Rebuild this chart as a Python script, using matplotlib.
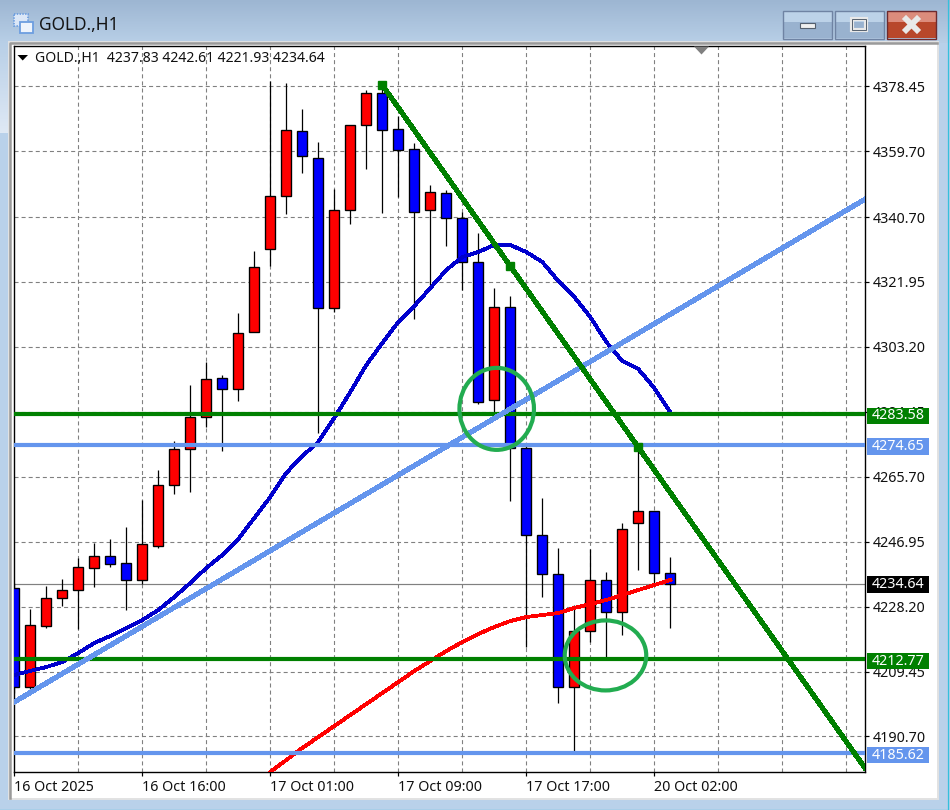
import numpy as np
import matplotlib
matplotlib.use("Agg")
import matplotlib.pyplot as plt
from matplotlib.patches import Rectangle, Ellipse, Polygon
from matplotlib.colors import LinearSegmentedColormap
from matplotlib.transforms import offset_copy

plt.rcParams['font.family'] = ['Noto Sans', 'DejaVu Sans']
plt.rcParams['lines.scale_dashes'] = False

# ---------- data ----------
opens = [4233.57,4204.99,4222.60,4230.69,4233.00,4239.35,4242.81,4240.79,4235.88,4245.70,4263.32,4273.71,
         4282.95,4294.21,4291.04,4307.50,4331.47,4346.77,4365.54,4357.74,4314.43,4342.73,4367.27,4376.51,
         4366.12,4360.34,4342.73,4347.64,4340.42,4327.71,4287.86,4314.72,4274.00,4248.88,4237.62,4204.99,
         4221.16,4235.88,4226.64,4252.34,4255.81,4237.83]
highs = [4235.02,4227.51,4234.15,4236.17,4242.24,4246.57,4247.72,4251.19,4258.98,4267.65,4276.02,4292.19,
         4298.84,4295.08,4312.98,4330.89,4379.98,4379.40,4371.89,4362.36,4348.79,4367.27,4377.38,4378.82,
         4369.87,4362.08,4349.95,4348.50,4342.15,4336.09,4320.20,4317.89,4274.87,4259.56,4245.12,4228.66,
         4244.84,4238.19,4252.34,4274.00,4255.81,4242.61]
lows = [4203.25,4204.12,4222.02,4228.38,4221.73,4233.86,4239.64,4227.22,4234.73,4245.12,4260.72,4261.30,
        4280.07,4273.13,4287.57,4307.50,4326.56,4341.57,4353.41,4278.33,4313.27,4338.69,4354.57,4341.86,
        4346.48,4311.25,4321.07,4332.33,4319.63,4286.71,4284.40,4258.70,4216.54,4230.97,4200.37,4186.50,
        4217.98,4213.65,4220.00,4238.77,4234.73,4221.93]
closes = [4204.99,4222.89,4230.69,4233.00,4239.64,4242.81,4240.50,4235.88,4246.28,4263.32,4273.71,4282.95,
          4293.93,4291.04,4307.21,4326.27,4346.77,4365.83,4358.32,4314.43,4342.73,4367.27,4376.51,4365.83,
          4360.05,4342.15,4347.93,4340.42,4327.71,4287.28,4314.72,4274.00,4248.88,4237.62,4204.99,4221.16,
          4235.88,4226.64,4250.61,4255.81,4237.90,4234.64]
ma_blue = [4208.45,4209.61,4210.76,4212.20,4214.80,4217.69,4219.71,4222.02,4224.33,4227.22,4230.97,4235.02,
           4239.35,4243.10,4247.72,4253.79,4259.85,4266.80,4271.69,4275.73,4282.66,4290.17,4297.97,4304.32,
           4310.39,4315.01,4320.20,4325.40,4329.16,4330.60,4332.62,4332.62,4330.60,4327.71,4322.23,4317.61,
           4311.83,4304.61,4299.12,4296.81,4291.33,4284.40]
ma_red_start = 16
ma_red = [4180.44,4183.90,4187.37,4190.55,4193.72,4196.90,4200.08,4203.25,4206.43,4209.61,4212.49,4215.38,
          4217.98,4220.29,4222.31,4224.04,4225.20,4225.78,4226.35,4227.80,4228.95,4230.11,4231.55,4233.00,
          4234.44,4235.88]
green_levels = [4283.58, 4212.77]
blue_levels = [4274.65, 4185.62]
last_price = 4234.64
green_trend_idx = [23, 31, 39]
green_trend_val = [4378.82, 4326.55, 4274.20]
blue_trend_idx = [0, 53.19]
blue_trend_val = [4200.65, 4345.90]
price_ticks = [4378.45,4359.70,4340.70,4321.95,4303.20,4284.45,4265.70,4246.95,4228.20,4209.45,4190.70]
date_idx = [0, 8, 16, 24, 32, 40]
date_labels = ['16 Oct 2025','16 Oct 16:00','17 Oct 01:00','17 Oct 09:00','17 Oct 17:00','20 Oct 02:00']
symbol = 'GOLD.,H1'

W, H = 950, 810
C_GREEN, C_LBLUE = '#008000', '#6495ED'
PX = 0.72
FS = 10.3

fig = plt.figure(figsize=(W/100, H/100), dpi=100)

# ---------- window chrome ----------
bg = fig.add_axes([0, 0, 1, 1], zorder=0)
bg.set_xlim(0, W); bg.set_ylim(H, 0); bg.axis('off')
bg.add_patch(Rectangle((0, 0), W, H, color='#b9d1ea', lw=0))
cm = LinearSegmentedColormap.from_list('t', ['#9db6d2', '#b8cfe7'])
bg.imshow(np.linspace(0, 1, 64).reshape(-1, 1), extent=(0, W, 43, 0), cmap=cm, aspect='auto', zorder=1)
cm2 = LinearSegmentedColormap.from_list('l', ['#b8cfe7', '#dfe9f5'])
bg.imshow(np.linspace(0, 1, 64).reshape(-1, 1), extent=(0, 9, 133, 43), cmap=cm2, aspect='auto', zorder=1)
bg.set_xlim(0, W); bg.set_ylim(H, 0)
bg.add_patch(Rectangle((9, 42), 929, 757, facecolor='white', edgecolor='#e2e2e2', lw=1.4, zorder=2))
bg.plot([10, 10, 937], [798, 43, 43], color='#9a9a9a', lw=1.8, zorder=3)
bg.plot([0, 948, 948], [809.5, 809.5, 0], color='#35c0dc', lw=0.9, zorder=3)
# buttons
for x0, x1, top, bot, edge in [(783, 832, '#bcd2e8', '#99b2cf', '#6f83a3'),
                               (835, 884, '#bcd2e8', '#99b2cf', '#6f83a3'),
                               (887, 936, '#dc8c7c', '#b8472b', '#6e2a2e')]:
    bg.add_patch(Rectangle((x0, 10.5), x1-x0, 14, color=top, lw=0, zorder=3))
    bg.add_patch(Rectangle((x0, 22), x1-x0, 16, color=bot, lw=0, zorder=3))
    bg.add_patch(Rectangle((x0, 10.5), x1-x0, 28, fill=False, edgecolor=edge, lw=1, zorder=4))
bg.add_patch(Rectangle((800, 23), 15, 5, facecolor='#f0f0f0', edgecolor='#55606e', lw=0.8, zorder=5))
bg.add_patch(Rectangle((852, 19), 14, 11, facecolor='none', edgecolor='#e8e8e8', lw=3.0, zorder=5))
bg.add_patch(Rectangle((852, 19), 14, 11, facecolor='none', edgecolor='#55606e', lw=0.7, zorder=5))
bg.plot([906, 917], [19, 30], color='#e9e9e9', lw=4.2, zorder=5)
bg.plot([906, 917], [30, 19], color='#e9e9e9', lw=4.2, zorder=5)
# window icon
bg.add_patch(Rectangle((13.5, 14), 14, 12, facecolor='#dbe7f7', edgecolor='#6d9ee0', lw=1.3, ls=(0, (1, 1)), zorder=4))
bg.add_patch(Rectangle((19.5, 22), 13, 11, facecolor='#eef4fc', edgecolor='#6d9ee0', lw=1.3, zorder=5))
bg.text(39, 25, symbol, fontsize=12.5, va='center', ha='left', color='#141414', zorder=5)

# ---------- chart ----------
L, R, T, B = 13.5, 865, 46, 771.5
ax = fig.add_axes([L/W, 1-B/H, (R-L)/W, (B-T)/H], zorder=1)
ax.set_xlim((L-14.3)/16, (R-14.3)/16)
ax.set_ylim(4403.37-0.28877*B, 4403.37-0.28877*T)
ax.set_axisbelow(True)
for s in ax.spines.values():
    s.set_linewidth(1.0); s.set_color('black')
ax.yaxis.tick_right()
ax.set_yticks(price_ticks)
ax.set_yticklabels([f'{v:.2f}' for v in price_ticks], fontsize=FS, color='#101010')
ax.set_xticks(date_idx)
ax.set_xticklabels(date_labels, fontsize=FS, ha='left', color='#101010')
ax.tick_params(axis='y', length=3, width=PX*1.2, pad=2.4)
ax.tick_params(axis='x', length=3, width=PX*1.2, pad=3)
dash = (0, (2.9, 2.2))
ax.grid(False)
for v in price_ticks:
    ax.axhline(v, color='#808080', lw=PX*1.1, ls=dash, zorder=1)
for i in np.arange(4, 53, 4):
    ax.axvline(i, color='#808080', lw=PX*1.1, ls=dash, zorder=1)
ax.axhline(last_price, color='#808080', lw=PX*1.2, zorder=1.2)

x = np.arange(len(opens))
o, h, l, c = map(np.array, (opens, highs, lows, closes))
ax.vlines(x, l, h, color='black', lw=PX*1.25, zorder=2)
up = c >= o
bw = 10/16
ax.bar(x[up], (c-o)[up], bottom=o[up], width=bw, color='#ff0000', edgecolor='black', lw=PX*1.35, zorder=3)
ax.bar(x[~up], (o-c)[~up], bottom=c[~up], width=bw, color='#0000ff', edgecolor='black', lw=PX*1.35, zorder=3)

ax.plot(x, ma_blue, color='#0000CD', lw=2.0, zorder=4, aa=False)
ax.plot(np.arange(len(ma_red))+ma_red_start, ma_red, color='#ff0000', lw=2.0, zorder=4, aa=False)

# MT4 snaps its level lines one pixel above the scale position
up1 = offset_copy(ax.get_yaxis_transform(), fig=fig, y=1.1, units='dots')
for v in green_levels:
    ax.plot([0, 1], [v, v], transform=up1, color=C_GREEN, lw=3.0, zorder=5)
for v in blue_levels:
    ax.plot([0, 1], [v, v], transform=up1, color=C_LBLUE, lw=3.0, zorder=5)
ax.plot(blue_trend_idx, blue_trend_val, color=C_LBLUE, lw=2.9, zorder=5, aa=False)

slope = (green_trend_val[-1]-green_trend_val[0])/(green_trend_idx[-1]-green_trend_idx[0])
xe = ax.get_xlim()[1]
ax.plot([green_trend_idx[0], xe], [green_trend_val[0], green_trend_val[0]+slope*(xe-green_trend_idx[0])],
        color=C_GREEN, lw=2.9, zorder=5.5, aa=False)
ax.plot(green_trend_idx, green_trend_val, ls='none', marker='s', ms=5.2, color=C_GREEN, zorder=5.6)

# hand-drawn circles
for cx, cy, w, hh in [(30.15, 4285.3, 74.5/16, 82*0.28877), (36.95, 4214.1, 81.5/16, 70*0.28877)]:
    ax.add_patch(Ellipse((cx, cy), w, hh, fill=False, edgecolor='#22AC50', lw=3.0, zorder=6))

# price labels on the scale
ytr = ax.get_yaxis_transform()
ax_w = R-L
bh = 16.7*0.28877
for v, col in [(green_levels[0], C_GREEN), (blue_levels[0], C_LBLUE), (last_price, 'black'),
               (green_levels[1], C_GREEN), (blue_levels[1], C_LBLUE)]:
    off = 0.0 if col == 'black' else 0.3
    ax.add_patch(Rectangle((1+2/ax_w, v-off-bh/2), 62/ax_w, bh, transform=ytr, color=col, lw=0, clip_on=False, zorder=7))
    ax.text(1+7/ax_w, v-off, f'{v:.2f}', transform=ytr, color='white', fontsize=FS, va='center', ha='left',
            clip_on=False, zorder=8)

# ---------- overlays in pixel space ----------
top = fig.add_axes([0, 0, 1, 1], zorder=2)
top.set_xlim(0, W); top.set_ylim(H, 0); top.axis('off'); top.patch.set_alpha(0)
top.add_patch(Polygon([(17.5, 55), (28, 55), (22.7, 60.5)], color='black', lw=0))
top.add_patch(Polygon([(694, 46.5), (709, 46.5), (701.5, 54.5)], color='#808080', lw=0))
top.text(35, 58, f'{symbol}  {opens[-1]:.2f} {highs[-1]:.2f} {lows[-1]:.2f} {closes[-1]:.2f}',
         fontsize=10.1, va='center', ha='left', color='#101010')

fig.savefig('out.png', dpi=100)
